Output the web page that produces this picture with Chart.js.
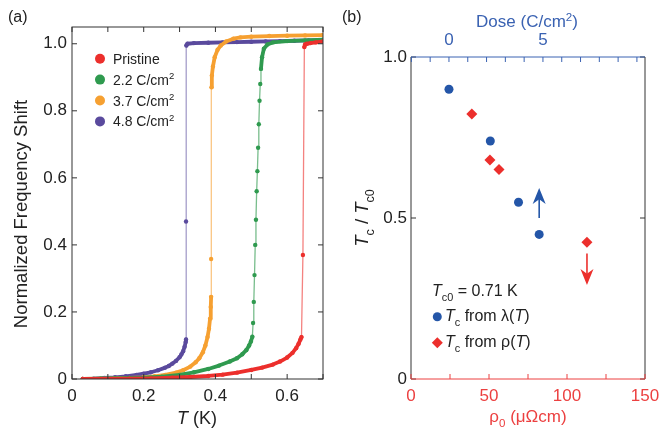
<!DOCTYPE html>
<html>
<head>
<meta charset="utf-8">
<script src="https://cdn.jsdelivr.net/npm/chart.js@4.4.0/dist/chart.umd.min.js"></script>
<style>
  html, body { margin: 0; padding: 0; background: #fff; }
  #wrap { position: relative; width: 662px; height: 432px; }
  canvas { position: absolute; top: 0; }
  #chartA { left: 0; }
  #chartB { left: 331px; }
</style>
</head>
<body>
<div id="wrap">
  <canvas id="chartA" width="331" height="432"></canvas>
  <canvas id="chartB" width="331" height="432"></canvas>
</div>
<script>
/* (a) décalage de fréquence normalisé en fonction de T */
var tPristine = [0.03, 0.10, 0.16, 0.22, 0.28, 0.33, 0.38, 0.42, 0.46, 0.50, 0.53, 0.56, 0.58, 0.60, 0.615, 0.625, 0.632, 0.637, 0.640, 0.644, 0.648, 0.650, 0.655, 0.665, 0.68, 0.70];
var fPristine = [0.000, 0.000, 0.001, 0.002, 0.004, 0.006, 0.009, 0.013, 0.019, 0.027, 0.034, 0.043, 0.052, 0.064, 0.078, 0.092, 0.105, 0.118, 0.125, 0.370, 0.990, 0.998, 1.000, 1.002, 1.004, 1.007];

var t22 = [0.03, 0.08, 0.12, 0.16, 0.20, 0.25, 0.30, 0.34, 0.38, 0.41, 0.44, 0.46, 0.475, 0.486, 0.494, 0.499, 0.503, 0.505, 0.507, 0.509, 0.511, 0.513, 0.515, 0.517, 0.519, 0.521, 0.523, 0.525, 0.527, 0.530, 0.535, 0.545, 0.56, 0.60, 0.65, 0.70];
var f22 = [0.000, 0.001, 0.002, 0.003, 0.004, 0.007, 0.012, 0.020, 0.030, 0.040, 0.052, 0.062, 0.074, 0.086, 0.100, 0.112, 0.126, 0.167, 0.230, 0.310, 0.400, 0.475, 0.560, 0.620, 0.690, 0.760, 0.830, 0.880, 0.925, 0.960, 0.985, 0.998, 1.004, 1.008, 1.010, 1.012];

var t37 = [0.03, 0.08, 0.12, 0.16, 0.20, 0.23, 0.26, 0.29, 0.31, 0.33, 0.345, 0.355, 0.365, 0.372, 0.378, 0.382, 0.385, 0.387, 0.388, 0.388, 0.389, 0.390, 0.393, 0.398, 0.406, 0.415, 0.43, 0.45, 0.47, 0.50, 0.55, 0.60, 0.65, 0.70];
var f37 = [0.000, 0.001, 0.002, 0.003, 0.005, 0.008, 0.012, 0.019, 0.026, 0.037, 0.050, 0.062, 0.080, 0.100, 0.125, 0.150, 0.180, 0.215, 0.245, 0.358, 0.870, 0.905, 0.932, 0.960, 0.982, 0.995, 1.007, 1.015, 1.019, 1.021, 1.023, 1.024, 1.025, 1.026];

var t48 = [0.03, 0.06, 0.09, 0.12, 0.15, 0.18, 0.20, 0.22, 0.24, 0.26, 0.27, 0.28, 0.29, 0.30, 0.305, 0.31, 0.314, 0.317, 0.318, 0.318, 0.319, 0.322, 0.34, 0.38, 0.42, 0.46, 0.50, 0.54, 0.58, 0.62, 0.66, 0.70];
var f48 = [0.000, 0.001, 0.003, 0.005, 0.008, 0.012, 0.016, 0.020, 0.026, 0.034, 0.039, 0.046, 0.054, 0.065, 0.073, 0.083, 0.096, 0.110, 0.118, 0.470, 0.995, 1.000, 1.002, 1.003, 1.004, 1.005, 1.006, 1.007, 1.008, 1.009, 1.010, 1.011];

var seriesNamesA = ['Pristine', '2.2 C/cm', '3.7 C/cm', '4.8 C/cm'];
var xTicksA = [0, 0.1, 0.2, 0.3, 0.4, 0.5, 0.6, 0.7];
var xLabelsA = [0, 0.2, 0.4, 0.6];
var yTicksA = [0, 0.2, 0.4, 0.6, 0.8, 1.0];

/* (b) Tc / Tc0 */
var doseLambda = [0, 2.2, 3.7, 4.8];
var tcLambda = [0.900, 0.739, 0.549, 0.449];
var rhoRes = [39, 50.6, 56.4, 112.8];
var tcRes = [0.823, 0.680, 0.651, 0.425];
var arrowUp = [4.8, 0.50, 0.593];     // dose, depart, pointe
var arrowDown = [112.8, 0.39, 0.292]; // rho, depart, pointe
var rhoTicks = [0, 25, 50, 75, 100, 125, 150];
var rhoLabels = [0, 50, 100, 150];
var doseTicks = [-2, -1, 0, 1, 2, 3, 4, 5, 6, 7, 8, 9, 10];
var doseLabels = [0, 5];
var yTicksB = [0, 0.5, 1.0];

var FONT = '"Liberation Sans", Arial, sans-serif';
var RED = '#ec2f2c', GREEN = '#2f9a4f', ORANGE = '#f6a031', PURPLE = '#5a4a9d';
var BLUE = '#2456a8', AXRED = '#ec4040', AXBLUE = '#3a62b2', DARK = '#333333';

function pts(xs, ys) {
    return xs.map(function (x, i) { return { x: x, y: ys[i] }; });
}

// texte avec italique (i), indice (b) et exposant (p)
function richFont(flags, size) {
    var small = flags.indexOf('b') >= 0 || flags.indexOf('p') >= 0;
    return (flags.indexOf('i') >= 0 ? 'italic ' : '') + (small ? size * 0.68 : size) + 'px ' + FONT;
}
function drawRich(ctx, parts, x, y, size, color, align) {
    var widths = parts.map(function (p) { ctx.font = richFont(p[1], size); return ctx.measureText(p[0]).width; });
    var total = widths.reduce(function (a, b) { return a + b; }, 0);
    var cx = align === 'center' ? x - total / 2 : x;
    ctx.fillStyle = color;
    ctx.textAlign = 'left';
    ctx.textBaseline = 'alphabetic';
    parts.forEach(function (p, i) {
        ctx.font = richFont(p[1], size);
        var dy = p[1].indexOf('b') >= 0 ? size * 0.3 : (p[1].indexOf('p') >= 0 ? -size * 0.38 : 0);
        ctx.fillText(p[0], cx, y + dy);
        cx += widths[i];
    });
}

function tickLine(ctx, x0, y0, x1, y1) {
    ctx.beginPath(); ctx.moveTo(x0, y0); ctx.lineTo(x1, y1); ctx.stroke();
}

function steep(c) { return Math.abs(c.p1.y - c.p0.y) > 12; }

function curve(label, xs, ys, col, fade) {
    return {
        label: label,
        data: pts(xs, ys),
        showLine: true,
        borderColor: col,
        backgroundColor: col,
        pointBackgroundColor: col,
        pointBorderWidth: 0,
        pointRadius: 2.2,
        borderWidth: 3.8,
        borderCapStyle: 'round',
        borderJoinStyle: 'round',
        segment: {
            borderWidth: function (c) { return steep(c) ? 1.3 : 3.8; },
            borderColor: function (c) { return steep(c) ? fade : col; }
        }
    };
}

// pas de marge automatique pour les libellés en bout d'axe
function noLabelPad(s) { s.paddingLeft = 0; s.paddingRight = 0; }

/* ---------- panneau (a) ---------- */
var decorA = {
    id: 'decorA',
    afterDraw: function (chart) {
        var ctx = chart.ctx, a = chart.chartArea;
        var sx = chart.scales.x, sy = chart.scales.y;
        ctx.save();
        ctx.strokeStyle = DARK; ctx.lineWidth = 1;
        ctx.strokeRect(a.left, a.top, a.right - a.left, a.bottom - a.top);
        xTicksA.forEach(function (v) {
            var p = sx.getPixelForValue(v);
            tickLine(ctx, p, a.bottom, p, a.bottom - 5);
            tickLine(ctx, p, a.top, p, a.top + 5);
        });
        yTicksA.forEach(function (v) {
            var p = sy.getPixelForValue(v);
            tickLine(ctx, a.left, p, a.left + 5, p);
            tickLine(ctx, a.right, p, a.right - 5, p);
        });
        // légende
        var cols = [RED, GREEN, ORANGE, PURPLE];
        seriesNamesA.forEach(function (name, i) {
            var cy = 58.7 + i * 20.9;
            ctx.fillStyle = cols[i];
            ctx.beginPath(); ctx.arc(100, cy, 5, 0, Math.PI * 2); ctx.fill();
            var parts = [[name, '']];
            if (i > 0) parts.push(['2', 'p']);
            drawRich(ctx, parts, 113, cy + 5, 14, '#222', 'left');
        });
        // titres
        drawRich(ctx, [['T', 'i'], [' (K)', '']], 197, 424, 18, '#222', 'center');
        ctx.translate(27, 214);
        ctx.rotate(-Math.PI / 2);
        drawRich(ctx, [['Normalized Frequency Shift', '']], 0, 0, 18.5, '#222', 'center');
        ctx.restore();
        ctx.save();
        drawRich(ctx, [['(a)', '']], 8, 22, 16, '#222', 'left');
        ctx.restore();
    }
};

new Chart(document.getElementById('chartA').getContext('2d'), {
    type: 'scatter',
    data: {
        datasets: [
            curve(seriesNamesA[0], tPristine, fPristine, RED, 'rgba(236,47,44,0.6)'),
            curve(seriesNamesA[1], t22, f22, GREEN, 'rgba(47,154,79,0.65)'),
            curve(seriesNamesA[2], t37, f37, ORANGE, 'rgba(246,160,49,0.6)'),
            curve(seriesNamesA[3], t48, f48, PURPLE, 'rgba(90,74,157,0.55)')
        ]
    },
    options: {
        responsive: false,
        animation: false,
        layout: { padding: { top: 27, right: 8, bottom: 0, left: 0 } },
        plugins: { legend: { display: false }, tooltip: { enabled: false } },
        scales: {
            x: {
                type: 'linear', min: 0, max: 0.7,
                grid: { display: false, drawTicks: false },
                border: { display: false },
                afterBuildTicks: function (s) { s.ticks = xLabelsA.map(function (v) { return { value: v }; }); },
                afterFit: function (s) { s.height = 53; noLabelPad(s); },
                ticks: {
                    padding: 7, color: '#222', autoSkip: false, maxRotation: 0,
                    font: { family: FONT, size: 17 },
                    callback: function (v) { return v === 0 ? '0' : v.toFixed(1); }
                }
            },
            y: {
                type: 'linear', min: 0, max: 1.05,
                grid: { display: false, drawTicks: false },
                border: { display: false },
                afterBuildTicks: function (s) { s.ticks = yTicksA.map(function (v) { return { value: v }; }); },
                afterFit: function (s) { s.width = 72; },
                ticks: {
                    padding: 5, color: '#222', autoSkip: false,
                    font: { family: FONT, size: 17 },
                    callback: function (v) { return v === 0 ? '0' : v.toFixed(1); }
                }
            }
        }
    },
    plugins: [decorA]
});

/* ---------- panneau (b) ---------- */
function drawArrow(ctx, x, y0, y1, color) {
    var dir = y1 < y0 ? -1 : 1;
    var head = 16, half = 6.5;
    ctx.strokeStyle = color; ctx.fillStyle = color; ctx.lineWidth = 1.6;
    tickLine(ctx, x, y0, x, y1 - dir * head * 0.6);
    ctx.beginPath();
    ctx.moveTo(x, y1);
    ctx.lineTo(x - half, y1 - dir * head);
    ctx.lineTo(x, y1 - dir * head * 0.7);
    ctx.lineTo(x + half, y1 - dir * head);
    ctx.closePath();
    ctx.fill();
}

var decorB = {
    id: 'decorB',
    afterDraw: function (chart) {
        var ctx = chart.ctx, a = chart.chartArea;
        var sx = chart.scales.x, sx2 = chart.scales.x2, sy = chart.scales.y;
        ctx.save();
        ctx.lineWidth = 1;
        ctx.strokeStyle = DARK;
        tickLine(ctx, a.left, a.top, a.left, a.bottom);
        tickLine(ctx, a.right, a.top, a.right, a.bottom);
        yTicksB.forEach(function (v) {
            var p = sy.getPixelForValue(v);
            tickLine(ctx, a.left, p, a.left + 5, p);
            tickLine(ctx, a.right, p, a.right - 5, p);
        });
        ctx.strokeStyle = AXRED;
        tickLine(ctx, a.left, a.bottom, a.right, a.bottom);
        rhoTicks.forEach(function (v) {
            var p = sx.getPixelForValue(v);
            tickLine(ctx, p, a.bottom, p, a.bottom - 5);
        });
        ctx.strokeStyle = AXBLUE;
        tickLine(ctx, a.left, a.top, a.right, a.top);
        doseTicks.forEach(function (v) {
            var p = sx2.getPixelForValue(v);
            tickLine(ctx, p, a.top, p, a.top + 5);
        });
        // flèches
        drawArrow(ctx, sx2.getPixelForValue(arrowUp[0]), sy.getPixelForValue(arrowUp[1]), sy.getPixelForValue(arrowUp[2]), BLUE);
        drawArrow(ctx, sx.getPixelForValue(arrowDown[0]), sy.getPixelForValue(arrowDown[1]), sy.getPixelForValue(arrowDown[2]), RED);
        // légende
        drawRich(ctx, [['T', 'i'], ['c0', 'b'], [' = 0.71 K', '']], 101, 295.7, 16, '#222', 'left');
        ctx.fillStyle = BLUE;
        ctx.beginPath(); ctx.arc(106.3, 316.7, 4.5, 0, Math.PI * 2); ctx.fill();
        drawRich(ctx, [['T', 'i'], ['c', 'b'], [' from \u03bb(', ''], ['T', 'i'], [')', '']], 114, 321, 16, '#222', 'left');
        ctx.fillStyle = RED;
        ctx.beginPath();
        ctx.moveTo(106.3 - 5.5, 342.7); ctx.lineTo(106.3, 337.2); ctx.lineTo(106.3 + 5.5, 342.7); ctx.lineTo(106.3, 348.2);
        ctx.closePath(); ctx.fill();
        drawRich(ctx, [['T', 'i'], ['c', 'b'], [' from \u03c1(', ''], ['T', 'i'], [')', '']], 114, 347, 16, '#222', 'left');
        // titres
        drawRich(ctx, [['Dose (C/cm', ''], ['2', 'p'], [')', '']], 196, 27, 17, AXBLUE, 'center');
        drawRich(ctx, [['\u03c1', ''], ['0', 'b'], [' (\u03bc\u03a9cm)', '']], 197, 422, 17, AXRED, 'center');
        ctx.save();
        ctx.translate(37, 218);
        ctx.rotate(-Math.PI / 2);
        drawRich(ctx, [['T', 'i'], ['c', 'b'], [' / ', ''], ['T', 'i'], ['c0', 'b']], 0, 0, 18.5, '#222', 'center');
        ctx.restore();
        drawRich(ctx, [['(b)', '']], 11, 22, 16, '#222', 'left');
        ctx.restore();
    }
};

new Chart(document.getElementById('chartB').getContext('2d'), {
    type: 'scatter',
    data: {
        datasets: [
            {
                label: 'Tc from lambda(T)',
                data: pts(doseLambda, tcLambda),
                xAxisID: 'x2',
                pointStyle: 'circle',
                pointRadius: 4.5,
                pointBorderWidth: 0,
                backgroundColor: BLUE
            },
            {
                label: 'Tc from rho(T)',
                data: pts(rhoRes, tcRes),
                xAxisID: 'x',
                pointStyle: 'rectRot',
                pointRadius: 5.5,
                pointBorderWidth: 0,
                backgroundColor: RED
            }
        ]
    },
    options: {
        responsive: false,
        animation: false,
        layout: { padding: { top: 0, right: 17, bottom: 0, left: 0 } },
        plugins: { legend: { display: false }, tooltip: { enabled: false } },
        scales: {
            x: {
                type: 'linear', position: 'bottom', min: 0, max: 150,
                grid: { display: false, drawTicks: false },
                border: { display: false },
                afterBuildTicks: function (s) { s.ticks = rhoLabels.map(function (v) { return { value: v }; }); },
                afterFit: function (s) { s.height = 53; noLabelPad(s); },
                ticks: { padding: 7, color: AXRED, autoSkip: false, maxRotation: 0, font: { family: FONT, size: 17 } }
            },
            x2: {
                type: 'linear', position: 'top', min: -2.02, max: 10.43,
                grid: { display: false, drawTicks: false },
                border: { display: false },
                afterBuildTicks: function (s) { s.ticks = doseLabels.map(function (v) { return { value: v }; }); },
                afterFit: function (s) { s.height = 57; noLabelPad(s); },
                ticks: { padding: 6, color: AXBLUE, autoSkip: false, maxRotation: 0, font: { family: FONT, size: 17 } }
            },
            y: {
                type: 'linear', min: 0, max: 1.0,
                grid: { display: false, drawTicks: false },
                border: { display: false },
                afterBuildTicks: function (s) { s.ticks = yTicksB.map(function (v) { return { value: v }; }); },
                afterFit: function (s) { s.width = 80; },
                ticks: {
                    padding: 4, color: '#222', autoSkip: false,
                    font: { family: FONT, size: 17 },
                    callback: function (v) { return v === 0 ? '0' : v.toFixed(1); }
                }
            }
        }
    },
    plugins: [decorB]
});
</script>
</body>
</html>
